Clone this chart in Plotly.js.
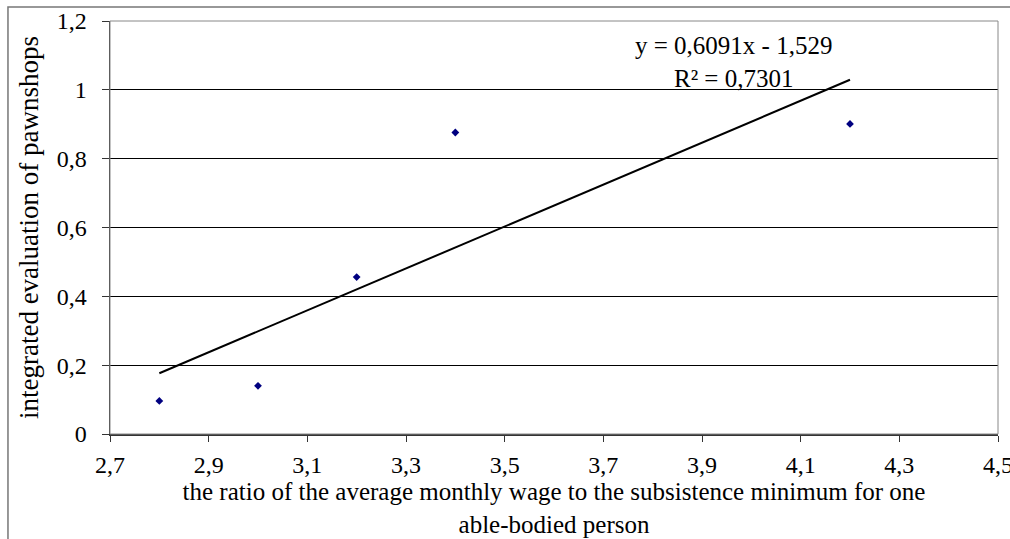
<!DOCTYPE html>
<html><head><meta charset="utf-8">
<script src="https://cdn.plot.ly/plotly-3.0.1.min.js"></script>
<style>html,body{margin:0;padding:0;background:#fff}#chart{width:1010px;height:539px}</style>
</head><body><div id="chart"></div>
<script>
const ratio = [2.8, 3.0, 3.2, 3.4, 4.2];
const evaluation = [0.096, 0.140, 0.456, 0.876, 0.901];
const slope = 0.6091, intercept = -1.529;
const trendX = [2.8, 4.2];
const trendY = trendX.map(x => slope * x + intercept);
const xTicks = [2.7, 2.9, 3.1, 3.3, 3.5, 3.7, 3.9, 4.1, 4.3, 4.5];
const yTicks = [0, 0.2, 0.4, 0.6, 0.8, 1, 1.2];
const eqText = 'y = 0,6091x - 1,529<br>R² = 0,7301';
const xTitle = 'the ratio of the average monthly wage to the subsistence minimum for one<br>able-bodied person';
const yTitle = 'integrated evaluation of pawnshops';

const fam = 'Liberation Serif';
const tickFont = {family: fam, color: '#000', size: 24};

Plotly.newPlot('chart', [
  {x: trendX, y: trendY, mode: 'lines', line: {color: '#000', width: 2}, hoverinfo: 'skip'},
  {x: ratio, y: evaluation, mode: 'markers', marker: {symbol: 'diamond', size: 6, color: '#000080'}}
], {
  width: 1010, height: 539,
  margin: {l: 110, r: 12, t: 21, b: 105},
  separators: ', ',
  showlegend: false,
  paper_bgcolor: '#fff', plot_bgcolor: '#fff',
  font: tickFont,
  xaxis: {
    range: [2.7, 4.5], tickvals: xTicks, ticks: 'outside', ticklen: 6, tickcolor: '#333',
    showgrid: false, zeroline: false, showline: true, linecolor: '#333', linewidth: 1.5,
    tickfont: tickFont, ticklabelstandoff: 3, ticklabeloverflow: 'allow',
    title: {text: xTitle, font: {family: fam, color: '#000', size: 25}, standoff: 0}
  },
  yaxis: {
    range: [0, 1.2], tickvals: yTicks, ticks: 'outside', ticklen: 7, tickcolor: '#333',
    showgrid: true, gridcolor: '#000', gridwidth: 1, zeroline: false,
    showline: true, linecolor: '#333', linewidth: 1.5,
    tickfont: tickFont, ticklabelstandoff: 10,
    title: {text: yTitle, font: {family: fam, color: '#000', size: 27}, standoff: 10}
  },
  shapes: [
    {type: 'rect', xref: 'paper', yref: 'paper', x0: 0, x1: 1, y0: 0, y1: 1,
     line: {color: '#888', width: 1}, layer: 'above'},
    {type: 'rect', xref: 'paper', yref: 'paper', x0: -0.1149, x1: 1.05, y0: -0.4, y1: 1.034,
     line: {color: '#777', width: 1.5}, layer: 'above'}
  ],
  annotations: [
    {xref: 'paper', yref: 'paper', x: (733 - 110) / 888, y: (434 - 62) / 413,
     text: eqText, showarrow: false, font: {family: fam, size: 25, color: '#000'},
     align: 'center', xanchor: 'center', yanchor: 'middle'}
  ]
}, {displayModeBar: false, staticPlot: true});
</script></body></html>
